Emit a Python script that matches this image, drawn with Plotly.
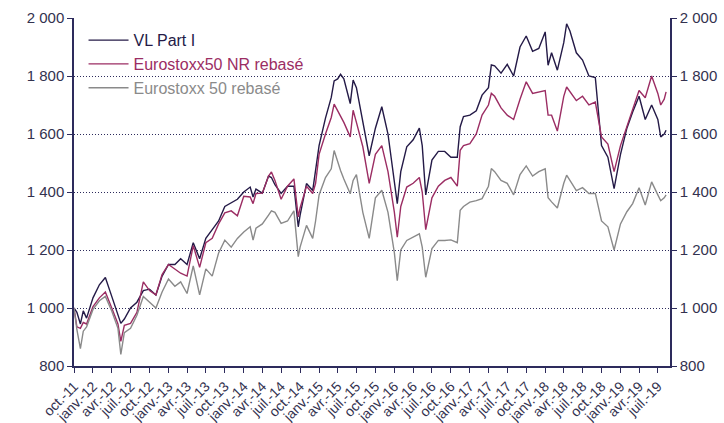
import plotly.graph_objects as go

# ---- data ----
dates = [
    "2011-10-01", "2011-10-15", "2011-11-01", "2011-11-15", "2011-12-01",
    "2012-01-01", "2012-02-01", "2012-03-01", "2012-04-01", "2012-05-01", "2012-05-15", "2012-06-01",
    "2012-07-01", "2012-08-01", "2012-09-01", "2012-10-01", "2012-11-01", "2012-12-01",
    "2013-01-01", "2013-02-01", "2013-03-01", "2013-04-01", "2013-05-01", "2013-06-01",
    "2013-07-01", "2013-08-01", "2013-09-01", "2013-10-01", "2013-11-01", "2013-12-01",
    "2014-01-01", "2014-02-01", "2014-02-15", "2014-03-01", "2014-04-01", "2014-05-01", "2014-05-15",
    "2014-06-01", "2014-07-01", "2014-08-01", "2014-09-01", "2014-09-22", "2014-10-01", "2014-11-01",
    "2014-12-01", "2014-12-15",
    "2015-01-01", "2015-02-01", "2015-03-01", "2015-03-15", "2015-04-01", "2015-04-15", "2015-05-01",
    "2015-06-01", "2015-06-15", "2015-07-01", "2015-08-01", "2015-09-01", "2015-10-01", "2015-11-01",
    "2015-12-01",
    "2016-01-01", "2016-01-15", "2016-02-01", "2016-03-01", "2016-04-01", "2016-05-01", "2016-05-15",
    "2016-06-01", "2016-07-01", "2016-08-01", "2016-09-01", "2016-10-01", "2016-11-01", "2016-11-15",
    "2016-12-01",
    "2017-01-01", "2017-02-01", "2017-03-01", "2017-04-01", "2017-04-15", "2017-05-01", "2017-06-01",
    "2017-07-01", "2017-08-01", "2017-09-01", "2017-10-01", "2017-11-01", "2017-12-01",
    "2018-01-01", "2018-01-15", "2018-02-01", "2018-03-01", "2018-04-01", "2018-04-15", "2018-05-01",
    "2018-06-01", "2018-07-01", "2018-08-01", "2018-09-01", "2018-10-01", "2018-11-01", "2018-12-01",
    "2019-01-01", "2019-02-01", "2019-03-01", "2019-04-01", "2019-05-01", "2019-06-01", "2019-07-01",
    "2019-07-15", "2019-08-01", "2019-08-10",
]

vl_part_i = [
    1000, 985, 945, 990, 965,
    1035, 1080, 1105, 1040, 980, 947, 962, 1000, 1020, 1060, 1065, 1045, 1110,
    1150, 1150, 1170, 1150, 1225, 1170, 1240, 1270, 1300, 1350, 1362, 1375,
    1400, 1417, 1383, 1410, 1396, 1455, 1450, 1425, 1395, 1420, 1420, 1280, 1320, 1429, 1405, 1480,
    1560, 1655, 1726, 1783, 1790, 1806, 1790, 1705, 1786, 1760, 1636, 1525, 1620, 1694, 1600,
    1430, 1360, 1470, 1556, 1580, 1620, 1560, 1390, 1510, 1540, 1540, 1520, 1520, 1625, 1660,
    1665, 1680, 1734, 1760, 1838, 1835, 1810, 1840, 1800, 1900, 1938, 1885, 1895,
    1952, 1837, 1880, 1820, 1915, 1980, 1955, 1880, 1855, 1800, 1795, 1560, 1520, 1412,
    1530, 1620, 1676, 1730, 1650, 1700, 1650, 1590, 1600, 1613,
]

eurostoxx50_nr = [
    1000, 935, 930, 950, 945,
    1005, 1035, 1055, 1000, 945, 885, 940, 947, 985, 1090, 1060, 1045, 1115,
    1150, 1135, 1120, 1110, 1215, 1140, 1225, 1240, 1290, 1328, 1335, 1318,
    1385, 1383, 1360, 1395, 1396, 1455, 1469, 1440, 1375, 1420, 1445, 1314, 1345, 1420, 1395, 1430,
    1530, 1600, 1657, 1703, 1680, 1665, 1640, 1590, 1682, 1640, 1556, 1430, 1530, 1560, 1470,
    1330, 1244, 1350, 1417, 1430, 1450, 1400, 1270, 1380, 1420, 1440, 1450, 1420, 1544, 1560,
    1567, 1600, 1665, 1700, 1740, 1730, 1690, 1665, 1650, 1720, 1780, 1740, 1745,
    1750, 1665, 1665, 1610, 1730, 1762, 1745, 1715, 1730, 1700, 1710, 1590, 1565, 1470,
    1560, 1630, 1685, 1750, 1725, 1800, 1740, 1700, 1720, 1745,
]

eurostoxx50 = [
    1000, 925, 860, 920, 935,
    995, 1025, 1040, 990, 930, 840, 915, 930, 975, 1040, 1020, 1000, 1055,
    1100, 1075, 1090, 1050, 1145, 1045, 1135, 1110, 1190, 1234, 1210, 1240,
    1262, 1280, 1234, 1275, 1290, 1320, 1335, 1330, 1292, 1300, 1335, 1177, 1210, 1285, 1240, 1300,
    1390, 1450, 1480, 1543, 1500, 1474, 1445, 1394, 1440, 1460, 1330, 1240, 1380, 1406, 1330,
    1190, 1094, 1200, 1233, 1244, 1256, 1210, 1106, 1205, 1233, 1233, 1235, 1225, 1337, 1350,
    1365, 1370, 1377, 1420, 1481, 1470, 1440, 1430, 1390, 1460, 1490, 1455, 1470,
    1480, 1380, 1366, 1345, 1430, 1458, 1440, 1405, 1415, 1395, 1395, 1300, 1280, 1200,
    1290, 1332, 1360, 1415, 1355, 1435, 1390, 1370, 1380, 1390,
]

series_names = ["VL Part I", "Eurostoxx50 NR rebasé", "Eurostoxx 50 rebasé"]

x_tick_vals = [
    "2011-10-01", "2012-01-01", "2012-04-01", "2012-07-01", "2012-10-01",
    "2013-01-01", "2013-04-01", "2013-07-01", "2013-10-01",
    "2014-01-01", "2014-04-01", "2014-07-01", "2014-10-01",
    "2015-01-01", "2015-04-01", "2015-07-01", "2015-10-01",
    "2016-01-01", "2016-04-01", "2016-07-01", "2016-10-01",
    "2017-01-01", "2017-04-01", "2017-07-01", "2017-10-01",
    "2018-01-01", "2018-04-01", "2018-07-01", "2018-10-01",
    "2019-01-01", "2019-04-01", "2019-07-01",
]
x_tick_text = [
    "oct.-11", "janv.-12", "avr.-12", "juil.-12", "oct.-12",
    "janv.-13", "avr.-13", "juil.-13", "oct.-13",
    "janv.-14", "avr.-14", "juil.-14", "oct.-14",
    "janv.-15", "avr.-15", "juil.-15", "oct.-15",
    "janv.-16", "avr.-16", "juil.-16", "oct.-16",
    "janv.-17", "avr.-17", "juil.-17", "oct.-17",
    "janv.-18", "avr.-18", "juil.-18", "oct.-18",
    "janv.-19", "avr.-19", "juil.-19",
]
y_tick_vals = [800, 1000, 1200, 1400, 1600, 1800, 2000]
y_tick_text = ["800", "1 000", "1 200", "1 400", "1 600", "1 800", "2 000"]

# ---- styling ----
colors = ["#241a47", "#9b2d63", "#8a8a8a"]
axis_color = "#2d2b5c"
text_color = "#33324f"
font_family = "Liberation Sans, Arial, sans-serif"

fig = go.Figure()
for name, vals, col in zip(series_names, [vl_part_i, eurostoxx50_nr, eurostoxx50], colors):
    fig.add_trace(go.Scatter(
        x=dates, y=vals, mode="lines",
        name=f"<span style='color:{col}'>{name}</span>",
        line=dict(color=col, width=1.4),
    ))

# invisible trace so that the right-hand axis is drawn
fig.add_trace(go.Scatter(
    x=[dates[0]], y=[vl_part_i[0]], yaxis="y2", mode="lines",
    line=dict(width=0), showlegend=False, hoverinfo="skip",
))

fig.update_layout(
    width=724, height=423,
    margin=dict(l=74, r=54, t=18, b=57, autoexpand=False),
    paper_bgcolor="white", plot_bgcolor="white",
    font=dict(family=font_family, color=text_color, size=15),
    legend=dict(
        x=0.016, y=0.985, xanchor="left", yanchor="top",
        bgcolor="rgba(0,0,0,0)", font=dict(size=16, family=font_family),
        tracegroupgap=0, itemwidth=40,
    ),
    xaxis=dict(
        type="date", range=["2011-10-01", "2019-08-29"],
        tickvals=x_tick_vals, ticktext=x_tick_text, tickangle=-45,
        tickfont=dict(size=14, color=text_color),
        showgrid=False, zeroline=False, automargin=False,
        showline=True, linecolor=axis_color, linewidth=1.5,
        ticks="outside", ticklen=5, tickcolor=axis_color,
    ),
    yaxis=dict(
        range=[800, 2000], tickvals=y_tick_vals, ticktext=y_tick_text,
        tickfont=dict(size=15, color=text_color), automargin=False,
        showgrid=True, gridcolor=axis_color, griddash="1px,2px", gridwidth=1,
        zeroline=False, showline=True, linecolor=axis_color, linewidth=1.5,
        ticks="outside", ticklen=5, tickcolor=axis_color,
    ),
    yaxis2=dict(
        range=[800, 2000], tickvals=y_tick_vals, ticktext=y_tick_text,
        tickfont=dict(size=15, color=text_color), automargin=False,
        overlaying="y", side="right", showgrid=False, zeroline=False,
        showline=True, linecolor=axis_color, linewidth=1.5,
        ticks="outside", ticklen=5, tickcolor=axis_color,
    ),
)

fig.write_html("out.html", config={"displayModeBar": False})

# remove the browser's default page margin so the figure sits at the top-left corner
with open("out.html", "r", encoding="utf-8") as fh:
    html = fh.read()
html = html.replace("<body>", "<body style=\"margin:0;padding:0;overflow:hidden\">", 1)
with open("out.html", "w", encoding="utf-8") as fh:
    fh.write(html)
